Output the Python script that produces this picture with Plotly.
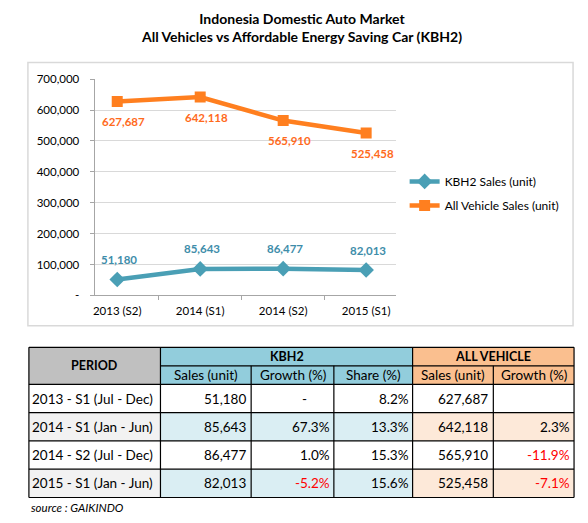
import plotly.graph_objects as go

W, H = 588, 523

# chart data
periods = ["2013 (S2)", "2014 (S1)", "2014 (S2)", "2015 (S1)"]
kbh2_sales = [51180, 85643, 86477, 82013]
all_sales = [627687, 642118, 565910, 525458]
y_ticks = [0, 100000, 200000, 300000, 400000, 500000, 600000, 700000]
y_tick_labels = ["-", "100,000", "200,000", "300,000", "400,000", "500,000", "600,000", "700,000"]

# table data
table_periods = ["2013 - S1 (Jul - Dec)", "2014 - S1 (Jan - Jun)",
                 "2014 - S2 (Jul - Dec)", "2015 - S1 (Jan - Jun)"]
kbh2_growth = [None, 67.3, 1.0, -5.2]
kbh2_share = [8.2, 13.3, 15.3, 15.6]
all_growth = [None, 2.3, -11.9, -7.1]

FONT = "Lato"
TEAL = "#4A9FB5"
TEAL_TXT = "#3E8DAA"
ORANGE = "#FF7F1F"
ORANGE_TXT = "#FF6A1C"


def px(x):
    return x / W


def py(y):
    return 1 - y / H


fig = go.Figure()

fig.add_trace(go.Scatter(
    x=periods, y=kbh2_sales, name="KBH2 Sales (unit)", mode="lines+markers",
    line=dict(color=TEAL, width=4.5), marker=dict(symbol="diamond", size=12, color=TEAL),
    legendgroup="a",
))
fig.add_trace(go.Scatter(
    x=periods, y=all_sales, name="All Vehicle Sales (unit)", mode="lines+markers",
    line=dict(color=ORANGE, width=4.5), marker=dict(symbol="square", size=11, color=ORANGE),
    legendgroup="b",
))

annotations = []
for p, v in zip(periods, kbh2_sales):
    annotations.append(dict(x=p, y=v, xref="x", yref="y", text=f"{v:,}", showarrow=False,
                            yshift=20, xshift=2, font=dict(family=FONT, size=11.5, color=TEAL_TXT, weight="bold")))
for p, v in zip(periods, all_sales):
    annotations.append(dict(x=p, y=v, xref="x", yref="y", text=f"{v:,}", showarrow=False,
                            yshift=-20, xshift=6, font=dict(family=FONT, size=11.5, color=ORANGE_TXT, weight="bold")))

shapes = []
# chart frame
shapes.append(dict(type="rect", xref="paper", yref="paper", x0=px(26), x1=px(573), y0=py(327), y1=py(57),
                   line=dict(color="#D9D9D9", width=1.5), layer="below"))

# ---- table ----
cols = [27, 159, 250, 333, 412, 493, 574]
rows = [349, 368, 387, 416, 445, 474, 503]
GRAY = "#C0C0C0"
BLUE = "#92CDDC"
LBLUE = "#DAEEF3"
ORG = "#FABF8F"
LORG = "#FDE9D9"
LGRAY = "#F2F2F2"


def cell(x0, x1, y0, y1, fill):
    shapes.append(dict(type="rect", xref="paper", yref="paper", x0=px(x0), x1=px(x1), y0=py(y1), y1=py(y0),
                       fillcolor=fill, line=dict(width=0)))


def hline(x0, x1, y):
    shapes.append(dict(type="line", xref="paper", yref="paper", x0=px(x0), x1=px(x1), y0=py(y), y1=py(y),
                       line=dict(color="black", width=1.2)))


def vline(x, y0, y1):
    shapes.append(dict(type="line", xref="paper", yref="paper", x0=px(x), x1=px(x), y0=py(y0), y1=py(y1),
                       line=dict(color="black", width=1.2)))


def text(x, y, s, anchor="center", size=13.5, bold=False, color="black", italic=False):
    annotations.append(dict(x=px(x), y=py(y), xref="paper", yref="paper", text=s, showarrow=False,
                            xanchor=anchor, yanchor="middle",
                            font=dict(family=FONT, size=size, color=color,
                                      weight="bold" if bold else "normal",
                                      style="italic" if italic else "normal")))


# header fills
cell(cols[0], cols[1], rows[0], rows[2], GRAY)
cell(cols[1], cols[4], rows[0], rows[2], BLUE)
cell(cols[4], cols[6], rows[0], rows[2], ORG)
# body fills, alternate rows shaded
for i in range(4):
    y0, y1 = rows[2 + i], rows[3 + i]
    if i % 2 == 1:
        cell(cols[0], cols[1], y0, y1, LGRAY)
        cell(cols[1], cols[4], y0, y1, LBLUE)
        cell(cols[4], cols[6], y0, y1, LORG)

# borders
hline(cols[0], cols[6], rows[0])
hline(cols[1], cols[6], rows[1])
for r in rows[2:]:
    hline(cols[0], cols[6], r)
for c in (cols[0], cols[1], cols[4], cols[6]):
    vline(c, rows[0], rows[-1])
for c in (cols[2], cols[3], cols[5]):
    vline(c, rows[1], rows[-1])

# header texts
text((cols[0] + cols[1]) / 2, (rows[0] + rows[2]) / 2, "PERIOD", bold=True, size=12.5)
text((cols[1] + cols[4]) / 2, (rows[0] + rows[1]) / 2, "KBH2", bold=True, size=12.5)
text((cols[4] + cols[6]) / 2, (rows[0] + rows[1]) / 2, "ALL VEHICLE", bold=True, size=12.5)
sub = ["Sales (unit)", "Growth (%)", "Share (%)", "Sales (unit)", "Growth (%)"]
for j, s in enumerate(sub):
    text((cols[1 + j] + cols[2 + j]) / 2, (rows[1] + rows[2]) / 2, s)

# body texts
for i in range(4):
    yc = (rows[2 + i] + rows[3 + i]) / 2
    text(cols[0] + 1, yc, table_periods[i], anchor="left")
    text(cols[2] - 3, yc, f"{kbh2_sales[i]:,}", anchor="right")
    g = kbh2_growth[i]
    if g is None:
        text(cols[3] - 25, yc, "-", anchor="right")
    else:
        text(cols[3] - 2, yc, f"{g:.1f}%", anchor="right", color="red" if g < 0 else "black")
    text(cols[4] - 2, yc, f"{kbh2_share[i]:.1f}%", anchor="right")
    text(cols[5] - 3, yc, f"{all_sales[i]:,}", anchor="right")
    g = all_growth[i]
    if g is not None:
        text(cols[6] - 2, yc, f"{g:.1f}%", anchor="right", color="red" if g < 0 else "black")

text(27, 513, "source : GAIKINDO", anchor="left", size=11.5, italic=True)

fig.update_layout(
    width=W, height=H, autosize=False,
    margin=dict(l=0, r=0, t=0, b=0),
    paper_bgcolor="white", plot_bgcolor="white",
    font=dict(family=FONT, size=12, color="black"),
    title=dict(text="Indonesia Domestic Auto Market<br>All Vehicles vs Affordable Energy Saving Car (KBH2)",
               x=px(302), xanchor="center", y=py(24), yanchor="middle",
               font=dict(family=FONT, size=14, color="black", weight="bold")),
    xaxis=dict(domain=[px(93), px(395)], showline=True, linecolor="#A6A6A6", linewidth=1.2,
               ticks="outside", tickson="boundaries", ticklen=4, tickcolor="#A6A6A6",
               showgrid=False, tickfont=dict(size=11.5), ticklabelstandoff=5),
    yaxis=dict(domain=[py(295.7), py(74)], range=[0, 700000], tickvals=y_ticks, ticktext=y_tick_labels,
               showline=True, linecolor="#A6A6A6", linewidth=1.2, ticks="outside", ticklen=4,
               tickcolor="#A6A6A6", gridcolor="#D9D9D9", gridwidth=1, zeroline=False,
               tickfont=dict(size=11.5), ticklabelstandoff=8),
    legend=dict(x=px(404), y=py(164), xanchor="left", yanchor="top", tracegroupgap=5,
                font=dict(size=12), bgcolor="rgba(0,0,0,0)"),
    shapes=shapes,
    annotations=annotations,
)

fig.write_html("out.html", config={"displayModeBar": False},
               post_script="document.body.style.margin='0';")
